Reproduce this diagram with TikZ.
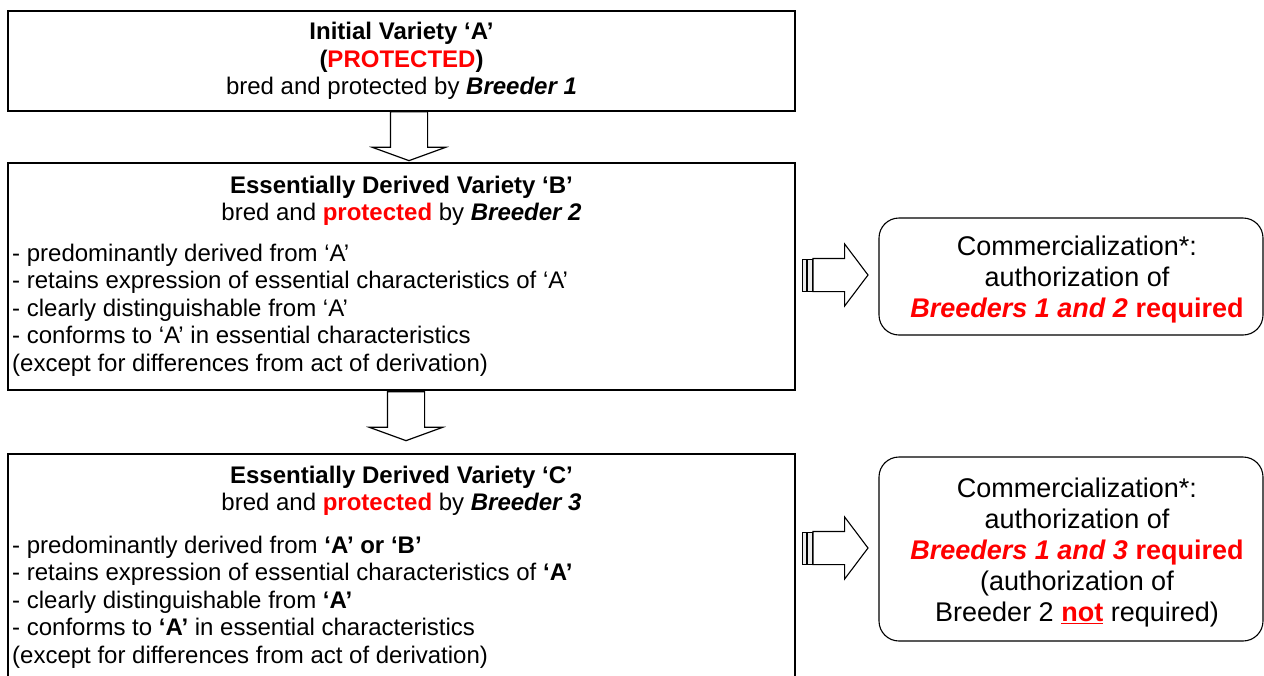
\documentclass[tikz,border=0pt]{standalone}
\usepackage{fontspec}
\setmainfont{Liberation Sans}
\usetikzlibrary{shapes.arrows,calc}

\begin{document}
\begin{tikzpicture}[x=1pt,y=-1pt]
\tikzset{
	varbox/.style={draw=black, line width=1.3pt, minimum width=787pt, inner sep=0pt},
	combox/.style={draw=black, line width=1.1pt, rounded corners=20pt, minimum width=384pt},
	comtxt/.style={inner sep=0pt, align=center, font=\fontsize{27}{31}\selectfont},
	txt/.style={inner sep=0pt, font=\fontsize{24}{27.5}\selectfont},
	downarrow/.style={single arrow, draw=black, line width=1.2pt, rotate=-90, anchor=tail, inner xsep=0pt, inner ysep=18pt, outer sep=0pt, single arrow head extend=18pt, single arrow tip angle=140, minimum height=49pt},
	rightarrow/.style={single arrow, draw=black, line width=1.1pt, anchor=tail, inner xsep=0pt, inner ysep=16pt, outer sep=0pt, single arrow head extend=14.5pt, single arrow tip angle=106, minimum height=55pt},
	stripe/.style={draw=black, line width=0.9pt, fill=gray!15}
}
\useasboundingbox (0,0) rectangle (1264,675);

% variety A
\node[varbox, txt, minimum height=100pt, align=center] (boxA) at (401.5,61) {\textbf{Initial Variety ‘A’}\\\textbf{(\textcolor{red}{PROTECTED})}\\bred and protected by \textbf{\textit{Breeder 1}}};

% variety B
\node[varbox, minimum height=227pt] (boxB) at (401.5,276.5) {};
\node[txt, align=center] (headB) at (401.5,201) {\textbf{Essentially Derived Variety ‘B’}\\bred and \textcolor{red}{\textbf{protected}} by \textbf{\textit{Breeder 2}}};
\node[txt, align=left, anchor=west] (listB) at (12,310) {- predominantly derived from ‘A’\\- retains expression of essential characteristics of ‘A’\\- clearly distinguishable from ‘A’\\- conforms to ‘A’ in essential characteristics\\(except for differences from act of derivation)};

% variety C
\node[varbox, minimum height=232pt] (boxC) at (401.5,570) {};
\node[txt, align=center] (headC) at (401.5,491) {\textbf{Essentially Derived Variety ‘C’}\\bred and \textcolor{red}{\textbf{protected}} by \textbf{\textit{Breeder 3}}};
\node[txt, align=left, anchor=west] (listC) at (12,602) {- predominantly derived from \textbf{‘A’ or ‘B’}\\- retains expression of essential characteristics of \textbf{‘A’}\\- clearly distinguishable from \textbf{‘A’}\\- conforms to \textbf{‘A’} in essential characteristics\\(except for differences from act of derivation)};

% arrows down
\node[downarrow] (arrAB) at ([xshift=7.5pt]boxA.south) {};
\node[downarrow] (arrBC) at ([xshift=4.5pt,yshift=-1pt]boxB.south) {};

% commercialization
\node[combox, minimum height=117pt] (comB) at (1071,276.5) {};
\node[comtxt] (txtB) at (1077,279.5) {Commercialization*:\\authorization of\\\textcolor{red}{\textbf{\textit{Breeders 1 and 2}} \textbf{required}}};
\node[combox, minimum height=184pt] (comC) at (1071,549) {};
\node[comtxt] (txtC) at (1077,553) {Commercialization*:\\authorization of\\\textcolor{red}{\textbf{\textit{Breeders 1 and 3}} \textbf{required}}\\(authorization of\\Breeder 2 {\color{red}\underline{\textbf{not}}} required)};

% striped arrows right
\node[rightarrow] (arrB) at (813,275) {};
\node[rightarrow] (arrC) at (813,548) {};
\foreach \a in {arrB,arrC} {
	\draw[stripe] ($(\a.tail)+(-11,-16)$) rectangle ($(\a.tail)+(-7,16)$);
	\draw[stripe] ($(\a.tail)+(-5.5,-16)$) rectangle ($(\a.tail)+(-1,16)$);
}

\end{tikzpicture}
\end{document}
